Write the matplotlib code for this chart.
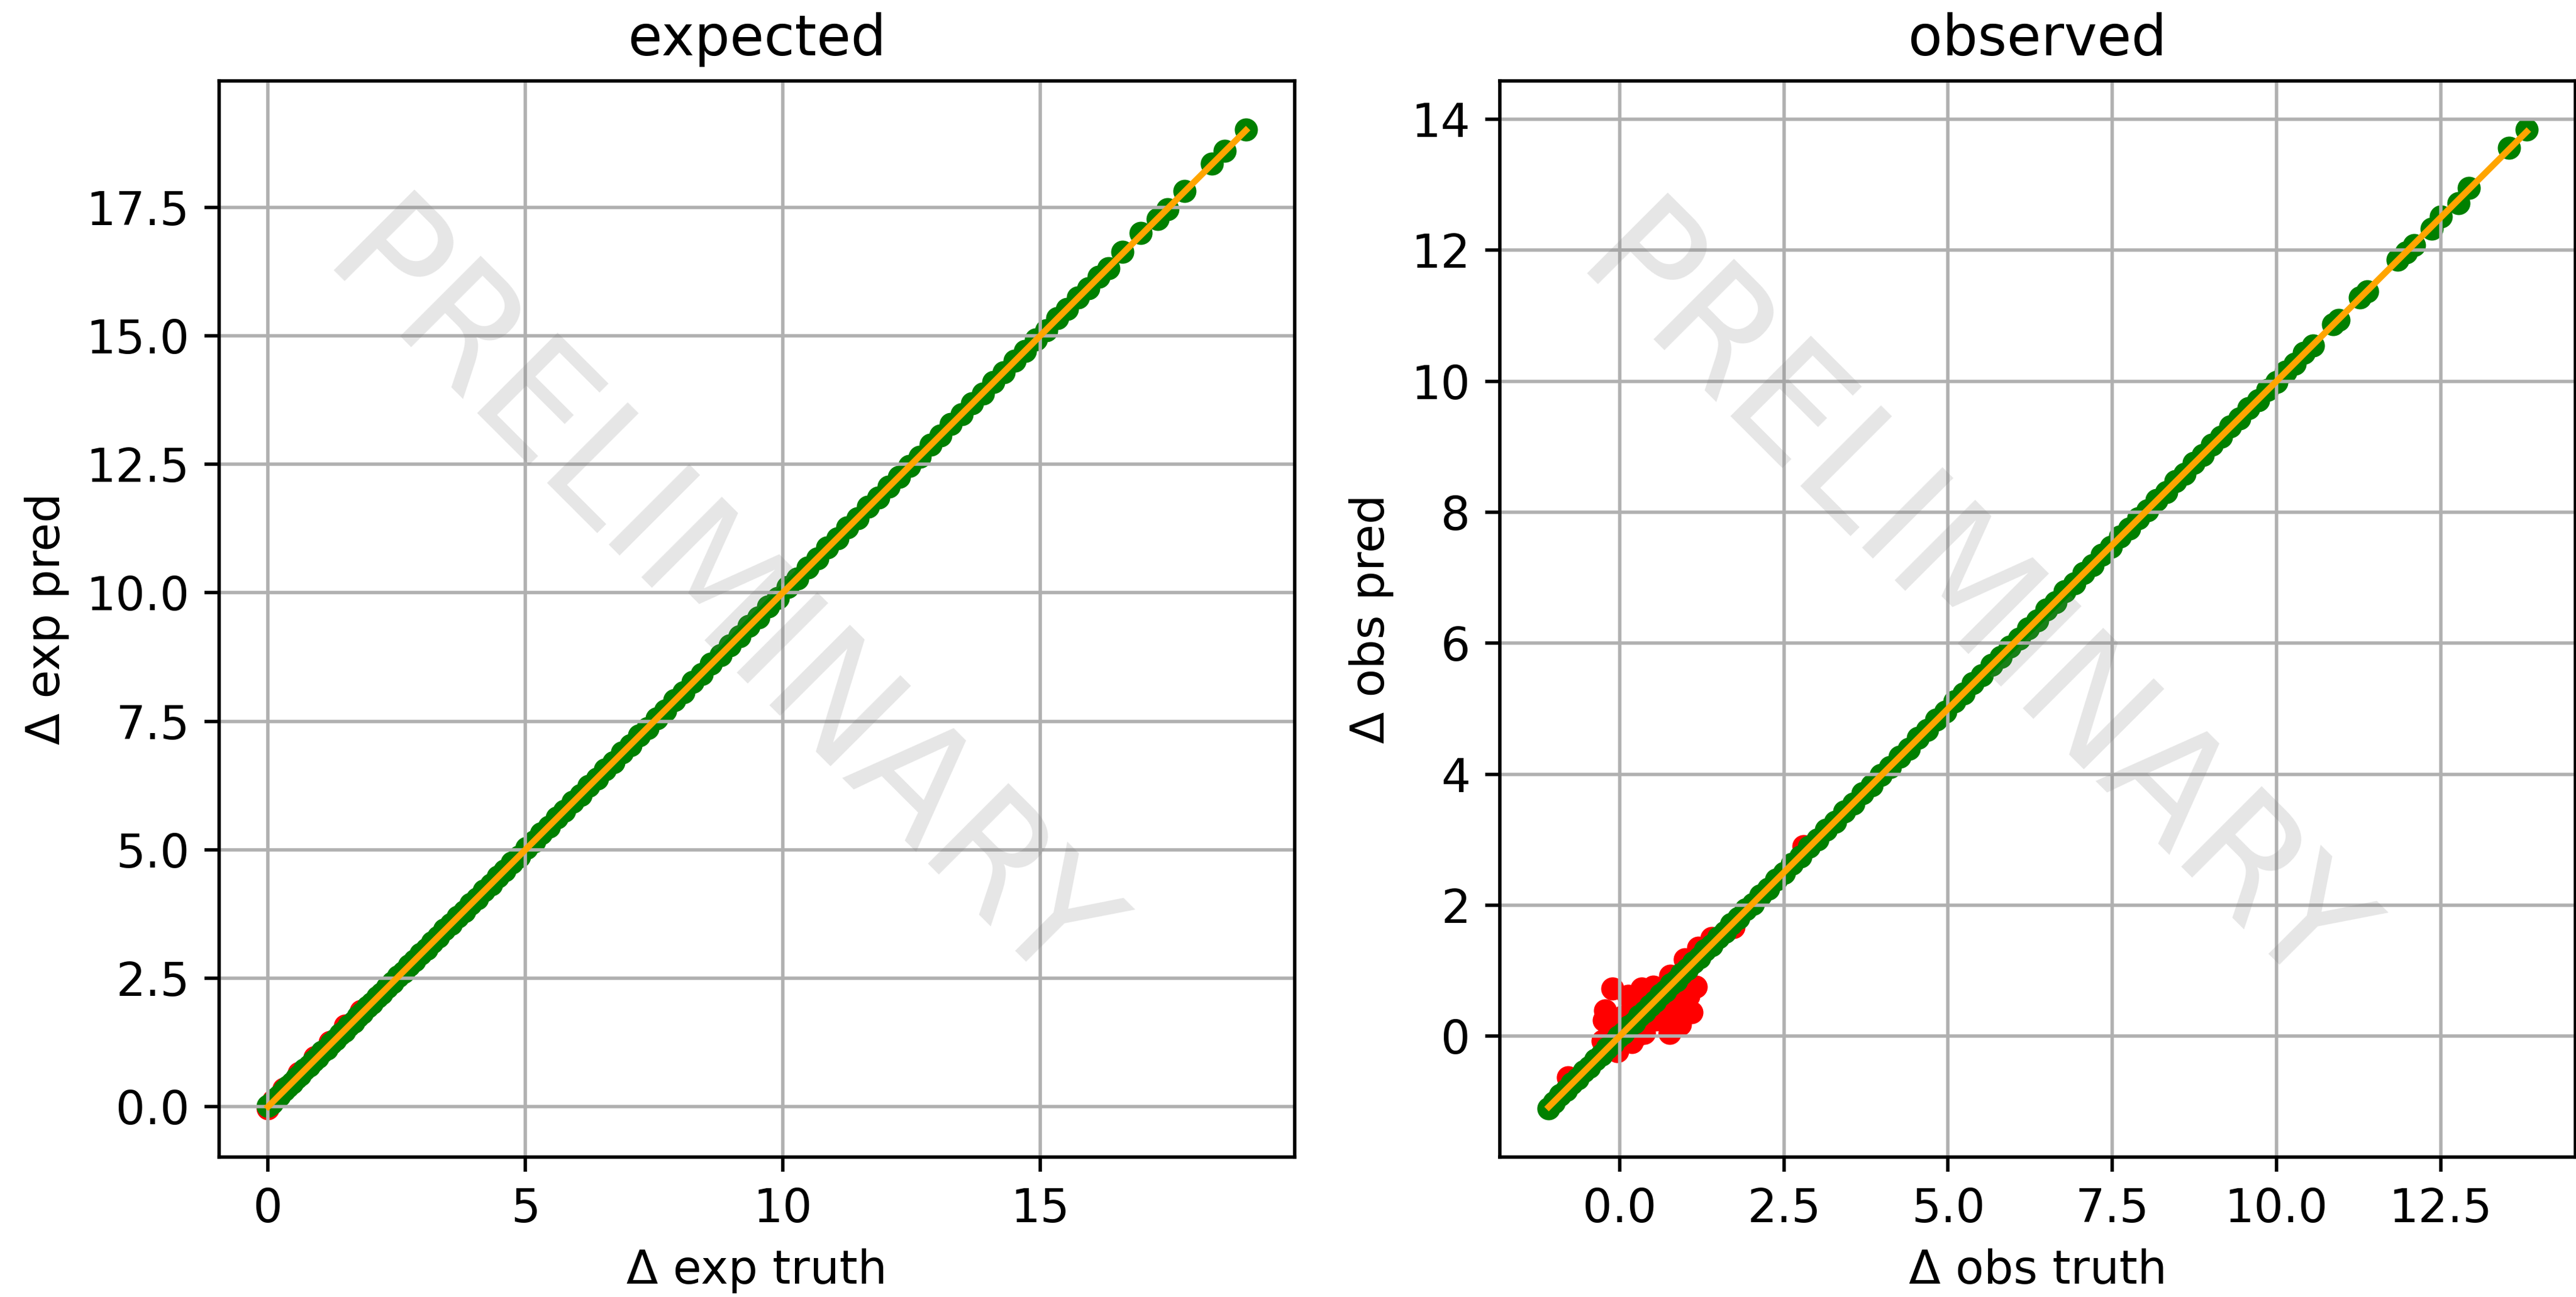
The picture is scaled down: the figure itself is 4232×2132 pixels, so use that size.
import matplotlib
matplotlib.use("Agg")
import matplotlib.pyplot as plt
import numpy as np

plt.rcParams['font.size'] = 11

# expected: truth vs prediction (model in green, baseline in red)
exp_truth = [0.00, 0.03, 0.08, 0.15, 0.22, 0.31, 0.38, 0.47, 0.55, 0.62,
             0.71, 0.80, 0.88, 0.97, 1.05, 1.14, 1.22, 1.31, 1.40, 1.48,
             1.57, 1.66, 1.74, 1.83, 1.93, 2.02, 2.12, 2.21, 2.31, 2.42,
             2.52, 2.63, 2.74, 2.85, 2.96, 3.08, 3.19, 3.31, 3.43, 3.56,
             3.68, 3.81, 3.93, 4.06, 4.19, 4.33, 4.46, 4.60, 4.74, 4.88,
             5.02, 5.17, 5.31, 5.46, 5.61, 5.76, 5.92, 6.07, 6.23, 6.39,
             6.55, 6.71, 6.88, 7.04, 7.21, 7.38, 7.55, 7.72, 7.90, 8.07,
             8.25, 8.43, 8.61, 8.79, 8.97, 9.16, 9.34, 9.53, 9.72, 9.91,
             10.10, 10.29, 10.48, 10.68, 10.87, 11.07, 11.26, 11.46, 11.66, 11.86,
             12.06, 12.26, 12.46, 12.66, 12.87, 13.07, 13.27, 13.48, 13.68, 13.89,
             14.09, 14.30, 14.51, 14.71, 14.92, 15.12, 15.33, 15.53, 15.74, 15.94,
             16.14, 16.33, 16.60, 16.95, 17.29, 17.48, 17.81, 18.34, 18.59, 19.00]
exp_pred = [0.01, 0.04, 0.07, 0.16, 0.21, 0.32, 0.39, 0.46, 0.56, 0.61,
            0.72, 0.79, 0.89, 0.96, 1.06, 1.13, 1.23, 1.30, 1.41, 1.47,
            1.58, 1.65, 1.75, 1.82, 1.94, 2.01, 2.13, 2.20, 2.32, 2.41,
            2.53, 2.62, 2.75, 2.84, 2.97, 3.07, 3.20, 3.30, 3.44, 3.55,
            3.69, 3.80, 3.94, 4.05, 4.20, 4.32, 4.47, 4.59, 4.75, 4.87,
            5.03, 5.16, 5.32, 5.45, 5.62, 5.75, 5.93, 6.06, 6.24, 6.38,
            6.56, 6.70, 6.89, 7.03, 7.22, 7.37, 7.56, 7.71, 7.91, 8.06,
            8.26, 8.42, 8.62, 8.78, 8.98, 9.15, 9.35, 9.52, 9.73, 9.90,
            10.11, 10.28, 10.49, 10.67, 10.88, 11.06, 11.27, 11.45, 11.67, 11.85,
            12.07, 12.25, 12.47, 12.65, 12.88, 13.06, 13.28, 13.47, 13.69, 13.88,
            14.10, 14.29, 14.52, 14.70, 14.93, 15.11, 15.34, 15.52, 15.75, 15.93,
            16.15, 16.32, 16.64, 17.00, 17.28, 17.47, 17.82, 18.35, 18.60, 19.01]
exp_base_truth = [0.00, 0.10, 0.30, 0.60, 0.90, 1.20, 1.50, 1.80]
exp_base_pred = [-0.03, 0.12, 0.34, 0.65, 0.96, 1.26, 1.57, 1.86]

# observed
obs_truth = [-1.08, -1.00, -0.91, -0.82, -0.73, -0.64, -0.55, -0.46, -0.37, -0.28,
             -0.19, -0.10, -0.02, 0.06, 0.14, 0.22, 0.30, 0.38, 0.46, 0.54,
             0.62, 0.70, 0.78, 0.86, 0.94, 1.03, 1.12, 1.21, 1.30, 1.40,
             1.50, 1.60, 1.70, 1.81, 1.92, 2.03, 2.14, 2.26, 2.38, 2.50,
             2.62, 2.75, 2.88, 3.01, 3.14, 3.28, 3.42, 3.56, 3.70, 3.84,
             3.98, 4.12, 4.26, 4.40, 4.54, 4.68, 4.82, 4.96, 5.10, 5.24,
             5.38, 5.52, 5.66, 5.80, 5.94, 6.08, 6.22, 6.36, 6.50, 6.64,
             6.78, 6.92, 7.06, 7.20, 7.34, 7.48, 7.62, 7.76, 7.90, 8.04,
             8.18, 8.32, 8.46, 8.60, 8.74, 8.88, 9.02, 9.16, 9.30, 9.44,
             9.58, 9.72, 9.86, 10.00, 10.14, 10.28, 10.42, 10.56, 10.86, 10.95,
             11.27, 11.38, 11.85, 11.98, 12.10, 12.37, 12.50, 12.77, 12.93, 13.54,
             13.81]
obs_pred = [-1.10, -1.01, -0.90, -0.83, -0.72, -0.65, -0.54, -0.47, -0.36, -0.29,
            -0.18, -0.11, -0.01, 0.05, 0.15, 0.21, 0.31, 0.37, 0.47, 0.53,
            0.63, 0.69, 0.79, 0.85, 0.95, 1.02, 1.13, 1.20, 1.31, 1.39,
            1.51, 1.59, 1.71, 1.80, 1.93, 2.02, 2.15, 2.25, 2.39, 2.49,
            2.63, 2.74, 2.89, 3.00, 3.15, 3.27, 3.43, 3.55, 3.71, 3.83,
            3.99, 4.11, 4.27, 4.39, 4.55, 4.67, 4.83, 4.95, 5.11, 5.23,
            5.39, 5.51, 5.67, 5.79, 5.95, 6.07, 6.23, 6.35, 6.51, 6.63,
            6.79, 6.91, 7.07, 7.19, 7.35, 7.47, 7.63, 7.75, 7.91, 8.03,
            8.19, 8.31, 8.47, 8.59, 8.75, 8.87, 9.03, 9.15, 9.31, 9.43,
            9.59, 9.71, 9.87, 9.99, 10.15, 10.27, 10.43, 10.55, 10.87, 10.94,
            11.28, 11.37, 11.86, 11.97, 12.08, 12.33, 12.52, 12.72, 12.95, 13.57,
            13.84]
obs_base_truth = [-0.11, 0.13, 0.33, 0.51, 1.16, 1.05, 1.09, 0.92, 0.76, 0.37,
                  0.19, -0.04, -0.26, -0.22, -0.24, 1.73, 1.20, 0.99, 0.77, -0.79,
                  0.05, 0.20, 0.40, 0.60, 0.80, 0.30, 0.55, 0.70, 0.95, 0.10,
                  0.45, 0.85, 0.65, -0.10, 1.40, 2.80, 0.25]
obs_base_pred = [0.73, 0.61, 0.73, 0.75, 0.75, 0.61, 0.36, 0.18, 0.05, 0.05,
                 -0.09, -0.23, -0.07, 0.39, 0.24, 1.66, 1.35, 1.17, 0.92, -0.63,
                 0.30, 0.45, 0.50, 0.55, 0.45, 0.20, 0.25, 0.35, 0.50, 0.05,
                 0.65, 0.30, 0.60, 0.10, 1.50, 2.90, 0.00]

# title, axis tag, data, watermark anchor (axes fraction)
panels = [
    ("expected", "exp", exp_truth, exp_pred, exp_base_truth, exp_base_pred, (0.46, 0.513)),
    ("observed", "obs", obs_truth, obs_pred, obs_base_truth, obs_base_pred, (0.435, 0.51)),
]

fig, axes = plt.subplots(1, 2, figsize=(4232 / 500, 2132 / 500), dpi=500)
fig.subplots_adjust(left=0.0851, right=0.9998, bottom=0.1079, top=0.9376, wspace=0.1907)

for ax, (title, tag, truth, pred, btruth, bpred, wm) in zip(axes, panels):
    ax.scatter(btruth, bpred, s=20, color="red")
    ax.scatter(truth, pred, s=20, color="green")
    lo, hi = min(truth), max(truth)
    ax.plot([lo, hi], [lo, hi], color="orange")
    ax.set_title(title)
    ax.set_xlabel(f"Δ {tag} truth")
    ax.set_ylabel(f"Δ {tag} pred")
    ax.grid(True)
    ax.text(wm[0], wm[1], "PRELIMINARY", transform=ax.transAxes, fontsize=37,
            color="gray", alpha=0.2, ha="center", va="center", rotation=-45)

fig.savefig("out.png", dpi=500)
